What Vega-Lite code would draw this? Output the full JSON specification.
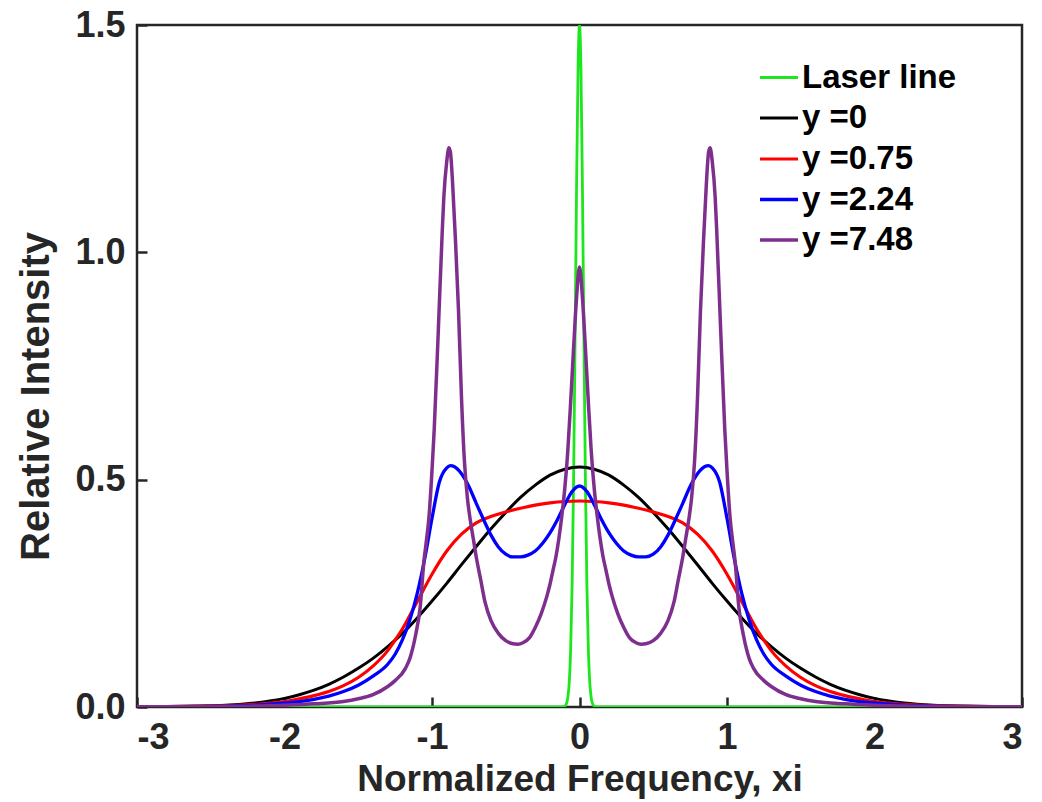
{
  "$schema": "https://vega.github.io/schema/vega-lite/v6.json",
  "width": 885,
  "height": 682,
  "autosize": "none",
  "padding": {"left": 137, "top": 25, "right": 20, "bottom": 95},
  "background": "white",
  "config": {
    "view": {"stroke": "#262626", "strokeWidth": 2.5},
    "font": "Liberation Sans",
    "axis": {
      "zindex": 1,
      "grid": false,
      "domain": false,
      "ticks": true,
      "offset": -10,
      "tickColor": "#262626",
      "tickWidth": 2.5,
      "tickSize": 10,
      "labelFont": "Liberation Sans",
      "labelFontWeight": "bold",
      "labelFontSize": 36,
      "labelColor": "#262626",
      "titleFont": "Liberation Sans",
      "titleFontWeight": "bold",
      "titleColor": "#262626"
    },
    "legend": {
      "symbolType": "stroke",
      "symbolSize": 1444,
      "symbolStrokeWidth": 3,
      "labelFont": "Liberation Sans",
      "labelFontWeight": "bold",
      "labelFontSize": 33,
      "labelColor": "#000000",
      "rowPadding": 2.5,
      "labelOffset": 2,
      "padding": 0
    }
  },
  "data": {
    "values": [
      {"series": "Laser line", "x": -3, "v": 0},
      {"series": "Laser line", "x": -0.12, "v": 0},
      {"series": "Laser line", "x": -0.1, "v": 0.002},
      {"series": "Laser line", "x": -0.09, "v": 0.006},
      {"series": "Laser line", "x": -0.08, "v": 0.019},
      {"series": "Laser line", "x": -0.07, "v": 0.052},
      {"series": "Laser line", "x": -0.06, "v": 0.127},
      {"series": "Laser line", "x": -0.05, "v": 0.27},
      {"series": "Laser line", "x": -0.04, "v": 0.5},
      {"series": "Laser line", "x": -0.03, "v": 0.81},
      {"series": "Laser line", "x": -0.02, "v": 1.14},
      {"series": "Laser line", "x": -0.01, "v": 1.4},
      {"series": "Laser line", "x": 0, "v": 1.5},
      {"series": "Laser line", "x": 0.01, "v": 1.4},
      {"series": "Laser line", "x": 0.02, "v": 1.14},
      {"series": "Laser line", "x": 0.03, "v": 0.81},
      {"series": "Laser line", "x": 0.04, "v": 0.5},
      {"series": "Laser line", "x": 0.05, "v": 0.27},
      {"series": "Laser line", "x": 0.06, "v": 0.127},
      {"series": "Laser line", "x": 0.07, "v": 0.052},
      {"series": "Laser line", "x": 0.08, "v": 0.019},
      {"series": "Laser line", "x": 0.09, "v": 0.006},
      {"series": "Laser line", "x": 0.1, "v": 0.002},
      {"series": "Laser line", "x": 0.12, "v": 0},
      {"series": "Laser line", "x": 3, "v": 0},

      {"series": "y =0", "x": -3, "v": 0.0005},
      {"series": "y =0", "x": -2.8, "v": 0.001},
      {"series": "y =0", "x": -2.6, "v": 0.002},
      {"series": "y =0", "x": -2.4, "v": 0.004},
      {"series": "y =0", "x": -2.2, "v": 0.009},
      {"series": "y =0", "x": -2.0, "v": 0.019},
      {"series": "y =0", "x": -1.9, "v": 0.027},
      {"series": "y =0", "x": -1.8, "v": 0.037},
      {"series": "y =0", "x": -1.7, "v": 0.05},
      {"series": "y =0", "x": -1.6, "v": 0.066},
      {"series": "y =0", "x": -1.5, "v": 0.085},
      {"series": "y =0", "x": -1.4, "v": 0.107},
      {"series": "y =0", "x": -1.3, "v": 0.133},
      {"series": "y =0", "x": -1.2, "v": 0.162},
      {"series": "y =0", "x": -1.1, "v": 0.196},
      {"series": "y =0", "x": -1.0, "v": 0.233},
      {"series": "y =0", "x": -0.9, "v": 0.272},
      {"series": "y =0", "x": -0.8, "v": 0.313},
      {"series": "y =0", "x": -0.7, "v": 0.353},
      {"series": "y =0", "x": -0.6, "v": 0.392},
      {"series": "y =0", "x": -0.5, "v": 0.428},
      {"series": "y =0", "x": -0.4, "v": 0.461},
      {"series": "y =0", "x": -0.3, "v": 0.488},
      {"series": "y =0", "x": -0.2, "v": 0.51},
      {"series": "y =0", "x": -0.1, "v": 0.523},
      {"series": "y =0", "x": 0, "v": 0.528},
      {"series": "y =0", "x": 0.1, "v": 0.523},
      {"series": "y =0", "x": 0.2, "v": 0.51},
      {"series": "y =0", "x": 0.3, "v": 0.488},
      {"series": "y =0", "x": 0.4, "v": 0.461},
      {"series": "y =0", "x": 0.5, "v": 0.428},
      {"series": "y =0", "x": 0.6, "v": 0.392},
      {"series": "y =0", "x": 0.7, "v": 0.353},
      {"series": "y =0", "x": 0.8, "v": 0.313},
      {"series": "y =0", "x": 0.9, "v": 0.272},
      {"series": "y =0", "x": 1.0, "v": 0.233},
      {"series": "y =0", "x": 1.1, "v": 0.196},
      {"series": "y =0", "x": 1.2, "v": 0.162},
      {"series": "y =0", "x": 1.3, "v": 0.133},
      {"series": "y =0", "x": 1.4, "v": 0.107},
      {"series": "y =0", "x": 1.5, "v": 0.085},
      {"series": "y =0", "x": 1.6, "v": 0.066},
      {"series": "y =0", "x": 1.7, "v": 0.05},
      {"series": "y =0", "x": 1.8, "v": 0.037},
      {"series": "y =0", "x": 1.9, "v": 0.027},
      {"series": "y =0", "x": 2.0, "v": 0.019},
      {"series": "y =0", "x": 2.2, "v": 0.009},
      {"series": "y =0", "x": 2.4, "v": 0.004},
      {"series": "y =0", "x": 2.6, "v": 0.002},
      {"series": "y =0", "x": 2.8, "v": 0.001},
      {"series": "y =0", "x": 3, "v": 0.0005},

      {"series": "y =0.75", "x": -3, "v": 0.0003},
      {"series": "y =0.75", "x": -2.8, "v": 0.0007},
      {"series": "y =0.75", "x": -2.6, "v": 0.0015},
      {"series": "y =0.75", "x": -2.4, "v": 0.003},
      {"series": "y =0.75", "x": -2.2, "v": 0.006},
      {"series": "y =0.75", "x": -2.0, "v": 0.012},
      {"series": "y =0.75", "x": -1.9, "v": 0.018},
      {"series": "y =0.75", "x": -1.8, "v": 0.025},
      {"series": "y =0.75", "x": -1.7, "v": 0.034},
      {"series": "y =0.75", "x": -1.6, "v": 0.047},
      {"series": "y =0.75", "x": -1.5, "v": 0.065},
      {"series": "y =0.75", "x": -1.4, "v": 0.09},
      {"series": "y =0.75", "x": -1.3, "v": 0.124},
      {"series": "y =0.75", "x": -1.25, "v": 0.147},
      {"series": "y =0.75", "x": -1.2, "v": 0.172},
      {"series": "y =0.75", "x": -1.1, "v": 0.232},
      {"series": "y =0.75", "x": -1.0, "v": 0.292},
      {"series": "y =0.75", "x": -0.9, "v": 0.343},
      {"series": "y =0.75", "x": -0.8, "v": 0.38},
      {"series": "y =0.75", "x": -0.7, "v": 0.405},
      {"series": "y =0.75", "x": -0.6, "v": 0.419},
      {"series": "y =0.75", "x": -0.5, "v": 0.429},
      {"series": "y =0.75", "x": -0.4, "v": 0.437},
      {"series": "y =0.75", "x": -0.3, "v": 0.444},
      {"series": "y =0.75", "x": -0.2, "v": 0.449},
      {"series": "y =0.75", "x": -0.1, "v": 0.452},
      {"series": "y =0.75", "x": 0, "v": 0.453},
      {"series": "y =0.75", "x": 0.1, "v": 0.452},
      {"series": "y =0.75", "x": 0.2, "v": 0.449},
      {"series": "y =0.75", "x": 0.3, "v": 0.444},
      {"series": "y =0.75", "x": 0.4, "v": 0.437},
      {"series": "y =0.75", "x": 0.5, "v": 0.429},
      {"series": "y =0.75", "x": 0.6, "v": 0.419},
      {"series": "y =0.75", "x": 0.7, "v": 0.405},
      {"series": "y =0.75", "x": 0.8, "v": 0.38},
      {"series": "y =0.75", "x": 0.9, "v": 0.343},
      {"series": "y =0.75", "x": 1.0, "v": 0.292},
      {"series": "y =0.75", "x": 1.1, "v": 0.232},
      {"series": "y =0.75", "x": 1.2, "v": 0.172},
      {"series": "y =0.75", "x": 1.25, "v": 0.147},
      {"series": "y =0.75", "x": 1.3, "v": 0.124},
      {"series": "y =0.75", "x": 1.4, "v": 0.09},
      {"series": "y =0.75", "x": 1.5, "v": 0.065},
      {"series": "y =0.75", "x": 1.6, "v": 0.047},
      {"series": "y =0.75", "x": 1.7, "v": 0.034},
      {"series": "y =0.75", "x": 1.8, "v": 0.025},
      {"series": "y =0.75", "x": 1.9, "v": 0.018},
      {"series": "y =0.75", "x": 2.0, "v": 0.012},
      {"series": "y =0.75", "x": 2.2, "v": 0.006},
      {"series": "y =0.75", "x": 2.4, "v": 0.003},
      {"series": "y =0.75", "x": 2.6, "v": 0.0015},
      {"series": "y =0.75", "x": 2.8, "v": 0.0007},
      {"series": "y =0.75", "x": 3, "v": 0.0003},

      {"series": "y =2.24", "x": -3, "v": 0.0003},
      {"series": "y =2.24", "x": -2.6, "v": 0.001},
      {"series": "y =2.24", "x": -2.4, "v": 0.002},
      {"series": "y =2.24", "x": -2.2, "v": 0.004},
      {"series": "y =2.24", "x": -2.0, "v": 0.009},
      {"series": "y =2.24", "x": -1.9, "v": 0.012},
      {"series": "y =2.24", "x": -1.8, "v": 0.017},
      {"series": "y =2.24", "x": -1.7, "v": 0.024},
      {"series": "y =2.24", "x": -1.6, "v": 0.034},
      {"series": "y =2.24", "x": -1.5, "v": 0.048},
      {"series": "y =2.24", "x": -1.4, "v": 0.068},
      {"series": "y =2.24", "x": -1.3, "v": 0.094},
      {"series": "y =2.24", "x": -1.25, "v": 0.116},
      {"series": "y =2.24", "x": -1.2, "v": 0.148},
      {"series": "y =2.24", "x": -1.15, "v": 0.192},
      {"series": "y =2.24", "x": -1.1, "v": 0.25},
      {"series": "y =2.24", "x": -1.05, "v": 0.325},
      {"series": "y =2.24", "x": -1.0, "v": 0.415},
      {"series": "y =2.24", "x": -0.95, "v": 0.495},
      {"series": "y =2.24", "x": -0.9, "v": 0.526},
      {"series": "y =2.24", "x": -0.875, "v": 0.531},
      {"series": "y =2.24", "x": -0.85, "v": 0.529},
      {"series": "y =2.24", "x": -0.8, "v": 0.513},
      {"series": "y =2.24", "x": -0.75, "v": 0.485},
      {"series": "y =2.24", "x": -0.7, "v": 0.448},
      {"series": "y =2.24", "x": -0.65, "v": 0.412},
      {"series": "y =2.24", "x": -0.6, "v": 0.378},
      {"series": "y =2.24", "x": -0.55, "v": 0.352},
      {"series": "y =2.24", "x": -0.5, "v": 0.336},
      {"series": "y =2.24", "x": -0.45, "v": 0.33},
      {"series": "y =2.24", "x": -0.4, "v": 0.33},
      {"series": "y =2.24", "x": -0.35, "v": 0.334},
      {"series": "y =2.24", "x": -0.3, "v": 0.343},
      {"series": "y =2.24", "x": -0.25, "v": 0.36},
      {"series": "y =2.24", "x": -0.2, "v": 0.383},
      {"series": "y =2.24", "x": -0.15, "v": 0.412},
      {"series": "y =2.24", "x": -0.1, "v": 0.445},
      {"series": "y =2.24", "x": -0.05, "v": 0.474},
      {"series": "y =2.24", "x": 0, "v": 0.486},
      {"series": "y =2.24", "x": 0.05, "v": 0.474},
      {"series": "y =2.24", "x": 0.1, "v": 0.445},
      {"series": "y =2.24", "x": 0.15, "v": 0.412},
      {"series": "y =2.24", "x": 0.2, "v": 0.383},
      {"series": "y =2.24", "x": 0.25, "v": 0.36},
      {"series": "y =2.24", "x": 0.3, "v": 0.343},
      {"series": "y =2.24", "x": 0.35, "v": 0.334},
      {"series": "y =2.24", "x": 0.4, "v": 0.33},
      {"series": "y =2.24", "x": 0.45, "v": 0.33},
      {"series": "y =2.24", "x": 0.5, "v": 0.336},
      {"series": "y =2.24", "x": 0.55, "v": 0.352},
      {"series": "y =2.24", "x": 0.6, "v": 0.378},
      {"series": "y =2.24", "x": 0.65, "v": 0.412},
      {"series": "y =2.24", "x": 0.7, "v": 0.448},
      {"series": "y =2.24", "x": 0.75, "v": 0.485},
      {"series": "y =2.24", "x": 0.8, "v": 0.513},
      {"series": "y =2.24", "x": 0.85, "v": 0.529},
      {"series": "y =2.24", "x": 0.875, "v": 0.531},
      {"series": "y =2.24", "x": 0.9, "v": 0.526},
      {"series": "y =2.24", "x": 0.95, "v": 0.495},
      {"series": "y =2.24", "x": 1.0, "v": 0.415},
      {"series": "y =2.24", "x": 1.05, "v": 0.325},
      {"series": "y =2.24", "x": 1.1, "v": 0.25},
      {"series": "y =2.24", "x": 1.15, "v": 0.192},
      {"series": "y =2.24", "x": 1.2, "v": 0.148},
      {"series": "y =2.24", "x": 1.25, "v": 0.116},
      {"series": "y =2.24", "x": 1.3, "v": 0.094},
      {"series": "y =2.24", "x": 1.4, "v": 0.068},
      {"series": "y =2.24", "x": 1.5, "v": 0.048},
      {"series": "y =2.24", "x": 1.6, "v": 0.034},
      {"series": "y =2.24", "x": 1.7, "v": 0.024},
      {"series": "y =2.24", "x": 1.8, "v": 0.017},
      {"series": "y =2.24", "x": 1.9, "v": 0.012},
      {"series": "y =2.24", "x": 2.0, "v": 0.009},
      {"series": "y =2.24", "x": 2.2, "v": 0.004},
      {"series": "y =2.24", "x": 2.4, "v": 0.002},
      {"series": "y =2.24", "x": 2.6, "v": 0.001},
      {"series": "y =2.24", "x": 3, "v": 0.0003},

      {"series": "y =7.48", "x": -3, "v": 0.0005},
      {"series": "y =7.48", "x": -2.5, "v": 0.001},
      {"series": "y =7.48", "x": -2.2, "v": 0.002},
      {"series": "y =7.48", "x": -2.0, "v": 0.004},
      {"series": "y =7.48", "x": -1.8, "v": 0.007},
      {"series": "y =7.48", "x": -1.6, "v": 0.012},
      {"series": "y =7.48", "x": -1.5, "v": 0.018},
      {"series": "y =7.48", "x": -1.4, "v": 0.027},
      {"series": "y =7.48", "x": -1.3, "v": 0.045},
      {"series": "y =7.48", "x": -1.25, "v": 0.058},
      {"series": "y =7.48", "x": -1.18, "v": 0.085},
      {"series": "y =7.48", "x": -1.15, "v": 0.107},
      {"series": "y =7.48", "x": -1.13, "v": 0.13},
      {"series": "y =7.48", "x": -1.11, "v": 0.16},
      {"series": "y =7.48", "x": -1.08, "v": 0.22},
      {"series": "y =7.48", "x": -1.055, "v": 0.32},
      {"series": "y =7.48", "x": -1.04, "v": 0.36},
      {"series": "y =7.48", "x": -1.02, "v": 0.42},
      {"series": "y =7.48", "x": -1.0, "v": 0.52},
      {"series": "y =7.48", "x": -0.985, "v": 0.61},
      {"series": "y =7.48", "x": -0.957, "v": 0.83},
      {"series": "y =7.48", "x": -0.93, "v": 1.05},
      {"series": "y =7.48", "x": -0.92, "v": 1.12},
      {"series": "y =7.48", "x": -0.9, "v": 1.2},
      {"series": "y =7.48", "x": -0.885, "v": 1.23},
      {"series": "y =7.48", "x": -0.875, "v": 1.22},
      {"series": "y =7.48", "x": -0.86, "v": 1.15},
      {"series": "y =7.48", "x": -0.84, "v": 1.02},
      {"series": "y =7.48", "x": -0.82, "v": 0.87},
      {"series": "y =7.48", "x": -0.8, "v": 0.68},
      {"series": "y =7.48", "x": -0.78, "v": 0.54},
      {"series": "y =7.48", "x": -0.76, "v": 0.46},
      {"series": "y =7.48", "x": -0.74, "v": 0.41},
      {"series": "y =7.48", "x": -0.72, "v": 0.37},
      {"series": "y =7.48", "x": -0.7, "v": 0.33},
      {"series": "y =7.48", "x": -0.67, "v": 0.28},
      {"series": "y =7.48", "x": -0.64, "v": 0.23},
      {"series": "y =7.48", "x": -0.6, "v": 0.19},
      {"series": "y =7.48", "x": -0.55, "v": 0.162},
      {"series": "y =7.48", "x": -0.5, "v": 0.146},
      {"series": "y =7.48", "x": -0.45, "v": 0.139},
      {"series": "y =7.48", "x": -0.42, "v": 0.138},
      {"series": "y =7.48", "x": -0.38, "v": 0.142},
      {"series": "y =7.48", "x": -0.34, "v": 0.152},
      {"series": "y =7.48", "x": -0.3, "v": 0.175},
      {"series": "y =7.48", "x": -0.26, "v": 0.205},
      {"series": "y =7.48", "x": -0.22, "v": 0.245},
      {"series": "y =7.48", "x": -0.2, "v": 0.27},
      {"series": "y =7.48", "x": -0.18, "v": 0.3},
      {"series": "y =7.48", "x": -0.16, "v": 0.33},
      {"series": "y =7.48", "x": -0.14, "v": 0.37},
      {"series": "y =7.48", "x": -0.12, "v": 0.42},
      {"series": "y =7.48", "x": -0.1, "v": 0.48},
      {"series": "y =7.48", "x": -0.08, "v": 0.56},
      {"series": "y =7.48", "x": -0.06, "v": 0.67},
      {"series": "y =7.48", "x": -0.04, "v": 0.79},
      {"series": "y =7.48", "x": -0.02, "v": 0.9},
      {"series": "y =7.48", "x": 0, "v": 0.968},
      {"series": "y =7.48", "x": 0.02, "v": 0.9},
      {"series": "y =7.48", "x": 0.04, "v": 0.79},
      {"series": "y =7.48", "x": 0.06, "v": 0.67},
      {"series": "y =7.48", "x": 0.08, "v": 0.56},
      {"series": "y =7.48", "x": 0.1, "v": 0.48},
      {"series": "y =7.48", "x": 0.12, "v": 0.42},
      {"series": "y =7.48", "x": 0.14, "v": 0.37},
      {"series": "y =7.48", "x": 0.16, "v": 0.33},
      {"series": "y =7.48", "x": 0.18, "v": 0.3},
      {"series": "y =7.48", "x": 0.2, "v": 0.27},
      {"series": "y =7.48", "x": 0.22, "v": 0.245},
      {"series": "y =7.48", "x": 0.26, "v": 0.205},
      {"series": "y =7.48", "x": 0.3, "v": 0.175},
      {"series": "y =7.48", "x": 0.34, "v": 0.152},
      {"series": "y =7.48", "x": 0.38, "v": 0.142},
      {"series": "y =7.48", "x": 0.42, "v": 0.138},
      {"series": "y =7.48", "x": 0.45, "v": 0.139},
      {"series": "y =7.48", "x": 0.5, "v": 0.146},
      {"series": "y =7.48", "x": 0.55, "v": 0.162},
      {"series": "y =7.48", "x": 0.6, "v": 0.19},
      {"series": "y =7.48", "x": 0.64, "v": 0.23},
      {"series": "y =7.48", "x": 0.67, "v": 0.28},
      {"series": "y =7.48", "x": 0.7, "v": 0.33},
      {"series": "y =7.48", "x": 0.72, "v": 0.37},
      {"series": "y =7.48", "x": 0.74, "v": 0.41},
      {"series": "y =7.48", "x": 0.76, "v": 0.46},
      {"series": "y =7.48", "x": 0.78, "v": 0.54},
      {"series": "y =7.48", "x": 0.8, "v": 0.68},
      {"series": "y =7.48", "x": 0.82, "v": 0.87},
      {"series": "y =7.48", "x": 0.84, "v": 1.02},
      {"series": "y =7.48", "x": 0.86, "v": 1.15},
      {"series": "y =7.48", "x": 0.875, "v": 1.22},
      {"series": "y =7.48", "x": 0.885, "v": 1.23},
      {"series": "y =7.48", "x": 0.9, "v": 1.2},
      {"series": "y =7.48", "x": 0.92, "v": 1.12},
      {"series": "y =7.48", "x": 0.93, "v": 1.05},
      {"series": "y =7.48", "x": 0.957, "v": 0.83},
      {"series": "y =7.48", "x": 0.985, "v": 0.61},
      {"series": "y =7.48", "x": 1.0, "v": 0.52},
      {"series": "y =7.48", "x": 1.02, "v": 0.42},
      {"series": "y =7.48", "x": 1.04, "v": 0.36},
      {"series": "y =7.48", "x": 1.055, "v": 0.32},
      {"series": "y =7.48", "x": 1.08, "v": 0.22},
      {"series": "y =7.48", "x": 1.11, "v": 0.16},
      {"series": "y =7.48", "x": 1.13, "v": 0.13},
      {"series": "y =7.48", "x": 1.15, "v": 0.107},
      {"series": "y =7.48", "x": 1.18, "v": 0.085},
      {"series": "y =7.48", "x": 1.25, "v": 0.058},
      {"series": "y =7.48", "x": 1.3, "v": 0.045},
      {"series": "y =7.48", "x": 1.4, "v": 0.027},
      {"series": "y =7.48", "x": 1.5, "v": 0.018},
      {"series": "y =7.48", "x": 1.6, "v": 0.012},
      {"series": "y =7.48", "x": 1.8, "v": 0.007},
      {"series": "y =7.48", "x": 2.0, "v": 0.004},
      {"series": "y =7.48", "x": 2.2, "v": 0.002},
      {"series": "y =7.48", "x": 2.5, "v": 0.001},
      {"series": "y =7.48", "x": 3, "v": 0.0005}
    ]
  },
  "mark": {"type": "line", "clip": true, "interpolate": "monotone"},
  "encoding": {
    "x": {
      "field": "x", "type": "quantitative",
      "scale": {"domain": [-3, 3], "nice": false, "zero": false},
      "axis": {
        "orient": "bottom", "values": [-3, -2, -1, 0, 1, 2, 3],
        "labelExpr": "'' + datum.value", "labelPadding": 13,
        "title": "Normalized Frequency, xi", "titleFontSize": 37, "titlePadding": 6
      }
    },
    "y": {
      "field": "v", "type": "quantitative",
      "scale": {"domain": [0, 1.5], "nice": false},
      "axis": {
        "orient": "left", "values": [0, 0.5, 1, 1.5], "format": ".1f", "labelPadding": 12,
        "title": "Relative Intensity", "titleFontSize": 40,
        "titleX": -91, "titleY": 371
      }
    },
    "color": {
      "field": "series", "type": "nominal",
      "scale": {
        "domain": ["Laser line", "y =0", "y =0.75", "y =2.24", "y =7.48"],
        "range": ["#1ee61e", "#000000", "#ff0000", "#0000ff", "#7e2f8e"]
      },
      "legend": {"orient": "none", "legendX": 621, "legendY": 32, "title": null}
    },
    "strokeWidth": {
      "field": "series", "type": "nominal",
      "scale": {
        "domain": ["Laser line", "y =0", "y =0.75", "y =2.24", "y =7.48"],
        "range": [2.8, 3.5, 3.5, 3.5, 3.5]
      },
      "legend": null
    }
  }
}
